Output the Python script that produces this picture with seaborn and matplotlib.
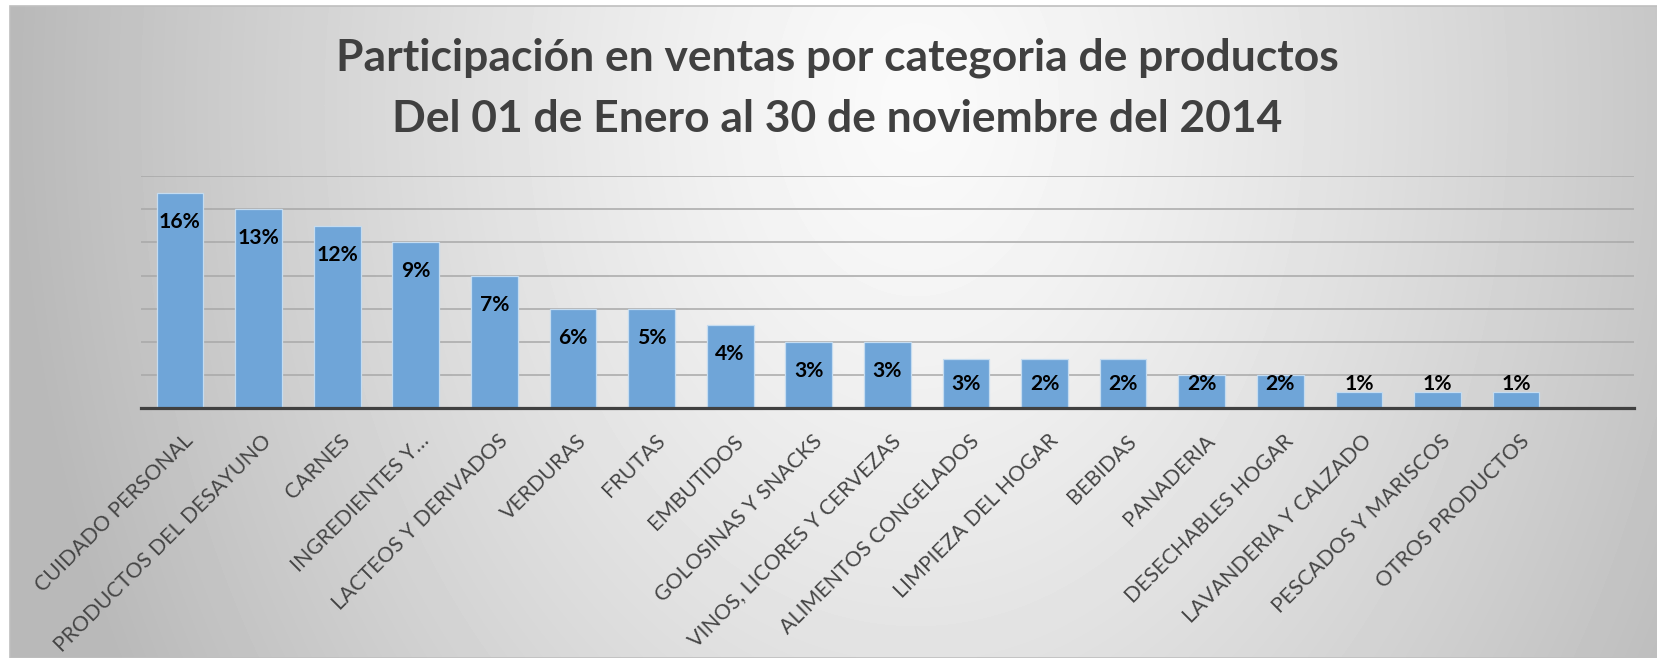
import numpy as np
import seaborn as sns
import matplotlib.pyplot as plt
from matplotlib.patches import Rectangle
from matplotlib.transforms import ScaledTranslation

categories = [
    "CUIDADO PERSONAL", "PRODUCTOS DEL DESAYUNO", "CARNES", "INGREDIENTES Y…",
    "LACTEOS Y DERIVADOS", "VERDURAS", "FRUTAS", "EMBUTIDOS", "GOLOSINAS Y SNACKS",
    "VINOS, LICORES Y CERVEZAS", "ALIMENTOS CONGELADOS", "LIMPIEZA DEL HOGAR",
    "BEBIDAS", "PANADERIA", "DESECHABLES HOGAR", "LAVANDERIA Y CALZADO",
    "PESCADOS Y MARISCOS", "OTROS PRODUCTOS",
]
# bar heights as drawn (grid units), labels as printed on the bars
bar_heights = [6.5, 6, 5.5, 5, 4, 3, 3, 2.5, 2, 2, 1.5, 1.5, 1.5, 1, 1, 0.5, 0.5, 0.5]
pct_labels = ["16%", "13%", "12%", "9%", "7%", "6%", "5%", "4%", "3%", "3%",
              "3%", "2%", "2%", "2%", "2%", "1%", "1%", "1%"]
title_lines = ["Participación en ventas por categoria de productos",
               "Del 01 de Enero al 30 de noviembre del 2014"]

W, H = 1658, 658
FONT = ["Lato", "DejaVu Sans"]

fig = plt.figure(figsize=(W / 100, H / 100), dpi=100, facecolor="white")

# background gradient (grey edges -> white centre)
bg = fig.add_axes([10 / W, 0, (W - 10) / W, (H - 6) / H])
gx, gy = np.meshgrid(np.linspace(0, 1, 400), np.linspace(0, 1, 200))
r = np.sqrt(((gx - 0.55) / 0.5) ** 2 + ((gy - 0.15) / 1.7) ** 2)
shade = 250 - 58 * np.clip(r, 0, 1.1) ** 1.3
bg.imshow(shade, cmap="gray", vmin=0, vmax=255, aspect="auto",
          extent=[0, 1, 1, 0], interpolation="bilinear")
bg.set_xlim(0, 1)
bg.set_ylim(1, 0)
bg.axis("off")
bg.add_patch(Rectangle((0, 0), 1, 1, transform=bg.transAxes, fill=False,
                       edgecolor="#bfbfbf", lw=1.2, clip_on=False))

ax = fig.add_axes([140.7 / W, (H - 408.3) / H, (1634 - 140.7) / W, (408.3 - 176) / H])
ax.set_facecolor("none")

sns.barplot(x=categories, y=bar_heights, color="#6fa5d8", saturation=1,
            width=0.594, edgecolor="#c5dcf0", linewidth=0.9, ax=ax, zorder=3)

ax.set_xlim(-0.5, len(categories) + 0.5)
ax.set_ylim(0, 7)
ax.set_yticks(np.arange(1, 8))
ax.yaxis.grid(True, color="#a8a8a8", lw=1.1, zorder=1)
ax.set_axisbelow(True)
ax.tick_params(axis="y", left=False, labelleft=False)
ax.tick_params(axis="x", length=0, pad=0)
for s in ax.spines.values():
    s.set_visible(False)
ax.axhline(0, color="#404040", lw=2.3, zorder=5, clip_on=False)
ax.set_xlabel("")
ax.set_ylabel("")

renderer = fig.canvas.get_renderer()


def fit_size(text, target_px, weight="normal"):
    t = fig.text(0, 0, text, fontsize=10, family=FONT, weight=weight)
    w = t.get_window_extent(renderer).width
    t.remove()
    return 10 * target_px / w


tick_fs = fit_size("CUIDADO PERSONAL", 211)
off = ScaledTranslation(3 / 100, -22.5 / 100, fig.dpi_scale_trans)
for lab in ax.get_xticklabels():
    lab.set_rotation(45)
    lab.set_ha("right")
    lab.set_va("top")
    lab.set_rotation_mode("anchor")
    lab.set_fontsize(tick_fs)
    lab.set_family(FONT)
    lab.set_color("#454545")
    lab.set_transform(lab.get_transform() + off)

# data labels inside the bar ends
px_per_unit = (408.3 - 176) / 7
for i, (h, txt) in enumerate(zip(bar_heights, pct_labels)):
    y = max(h - 29 / px_per_unit, 24 / px_per_unit)
    ax.text(i, y, txt, ha="center", va="center", fontsize=15.2, weight="bold",
            family=FONT, color="black", zorder=6)

title_fs = fit_size(title_lines[0], 1005, weight="bold")
for line, base in zip(title_lines, [70, 131.7]):
    fig.text(837 / W, 1 - base / H, line, ha="center", va="baseline",
             fontsize=title_fs, weight="bold", family=FONT, color="#404040")

fig.savefig("out.png", dpi=100, facecolor="white")
